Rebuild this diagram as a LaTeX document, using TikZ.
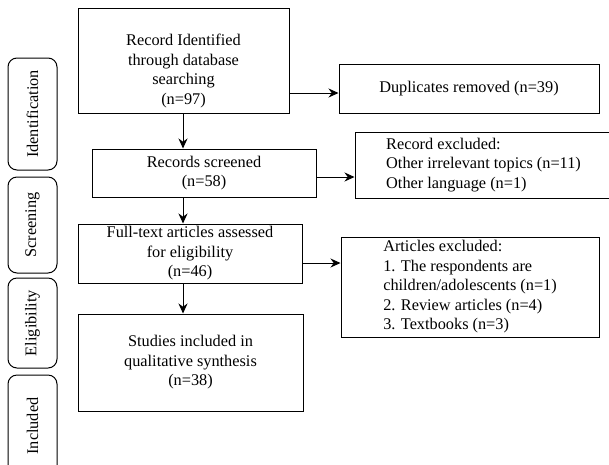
\documentclass[tikz,border=0pt]{standalone}
\usepackage{fontspec}
\setmainfont{Liberation Serif}
\usetikzlibrary{arrows.meta}

\tikzset{
  stagebox/.style={draw, line width=1pt, minimum width=#1, align=center, inner sep=2pt},
  sidebox/.style={draw, line width=1pt, rounded corners=9pt, minimum height=49pt, minimum width=#1, rotate=90},
  flowarrow/.style={-{Stealth[length=10pt,width=9pt]}, line width=1pt}
}

\begin{document}
\begin{tikzpicture}[x=1pt, y=-1pt, font=\fontsize{16.3}{19.5}\selectfont]
\useasboundingbox (0,0) rectangle (609,464);
% stage labels on the left
\node[sidebox=112pt] (ident) at (32.5,114) {Identification};
\node[sidebox=96pt] (screen) at (32.5,225) {Screening};
\node[sidebox=90pt] (elig) at (32.5,323) {Eligibility};
\node[sidebox=102pt] (incl) at (32.5,426) {Included};
% main column
\node[stagebox=211pt, minimum height=105pt] (found) at (183.5,60.5) {\rule{0pt}{32pt}Record Identified\\through database\\searching\\(n=97)};
\node[stagebox=224pt, minimum height=48pt] (screened) at (204,173) {Records screened\\(n=58)};
\node[stagebox=224pt, minimum height=59pt] (fulltext) at (190,253.5) {Full-text articles assessed\\for eligibility\\(n=46)};
\node[stagebox=225pt, minimum height=97pt] (included) at (190.5,362.5) {Studies included in\\qualitative synthesis\\(n=38)};
% exclusions on the right
\node[stagebox=260pt, minimum height=49pt] (dupes) at (469,88.5) {Duplicates removed (n=39)};
\node[stagebox=257pt, minimum height=66pt, align=left] (recexcl) at (483.5,165) {Record excluded:\\Other irrelevant topics (n=11)\\Other language (n=1)};
\node[stagebox=258pt, minimum height=100pt, align=left] (artexcl) at (470,287) {Articles excluded:\\1. The respondents are\\children/adolescents (n=1)\\2. Review articles (n=4)\\3. Textbooks (n=3)};
% arrows
\draw[flowarrow] (found.south -| 183,0) -- (screened.north -| 183,0);
\draw[flowarrow] (screened.south -| 183,0) -- (fulltext.north -| 183,0);
\draw[flowarrow] (fulltext.south -| 183,0) -- (included.north -| 183,0);
\draw[flowarrow] ([yshift=-4.5pt]dupes.west -| found.east) -- ([yshift=-4.5pt]dupes.west);
\draw[flowarrow] ([yshift=-4pt]screened.east) -- ([yshift=-4pt]screened.east -| recexcl.west);
\draw[flowarrow] ([yshift=-9.5pt]fulltext.east) -- ([yshift=-9.5pt]fulltext.east -| artexcl.west);
\end{tikzpicture}
\end{document}
